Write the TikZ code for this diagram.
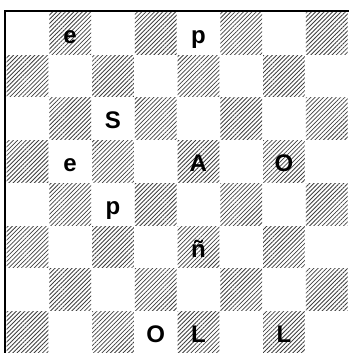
\documentclass[tikz,border=0pt]{standalone}
\usepackage{fontspec}
\setmainfont{Liberation Sans}
\usetikzlibrary{patterns.meta}
\begin{document}
\begin{tikzpicture}[x=1pt,y=1pt,
  hatch/.style={pattern={Lines[angle=45,distance=3pt,line width=0.8pt]},pattern color=black!75},
  piece/.style={anchor=base,inner sep=0pt,font=\fontsize{24}{28}\selectfont\bfseries},
  frame/.style={line width=2.6pt,line cap=rect}]
\useasboundingbox (0,0) rectangle (348,353);
\def\sz{42.75}
\def\bx{6}
\def\by{341}
% hatched squares
\foreach \r in {0,...,7}{
  \foreach \c in {0,...,7}{
    \pgfmathtruncatemacro{\odd}{mod(\r+\c,2)}
    \ifnum\odd=1
      \path[hatch] (\bx+\c*\sz+0.5,\by-\r*\sz-0.5) rectangle (\bx+\c*\sz+\sz-0.5,\by-\r*\sz-\sz+0.5);
    \fi
  }
}
% border
\coordinate (bl) at (5,-2);
\coordinate (tl) at (5,342);
\coordinate (tr) at (350,342);
\draw[frame] (bl) -- (tl) -- (tr);
% letters: (col,row,text)
\foreach \c/\r/\t/\n in {1/0/e/a1,4/0/p/a2,2/2/S/a3,1/3/e/a4,4/3/A/a5,6/3/O/a6,2/4/p/a7,4/5/ñ/a8,3/7/O/a9,4/7/L/a10,6/7/L/a11}{
  \node[piece] (\n) at (\bx+\c*\sz+0.5*\sz,\by-\r*\sz-0.5*\sz-10) {\t};
}
\end{tikzpicture}
\end{document}
